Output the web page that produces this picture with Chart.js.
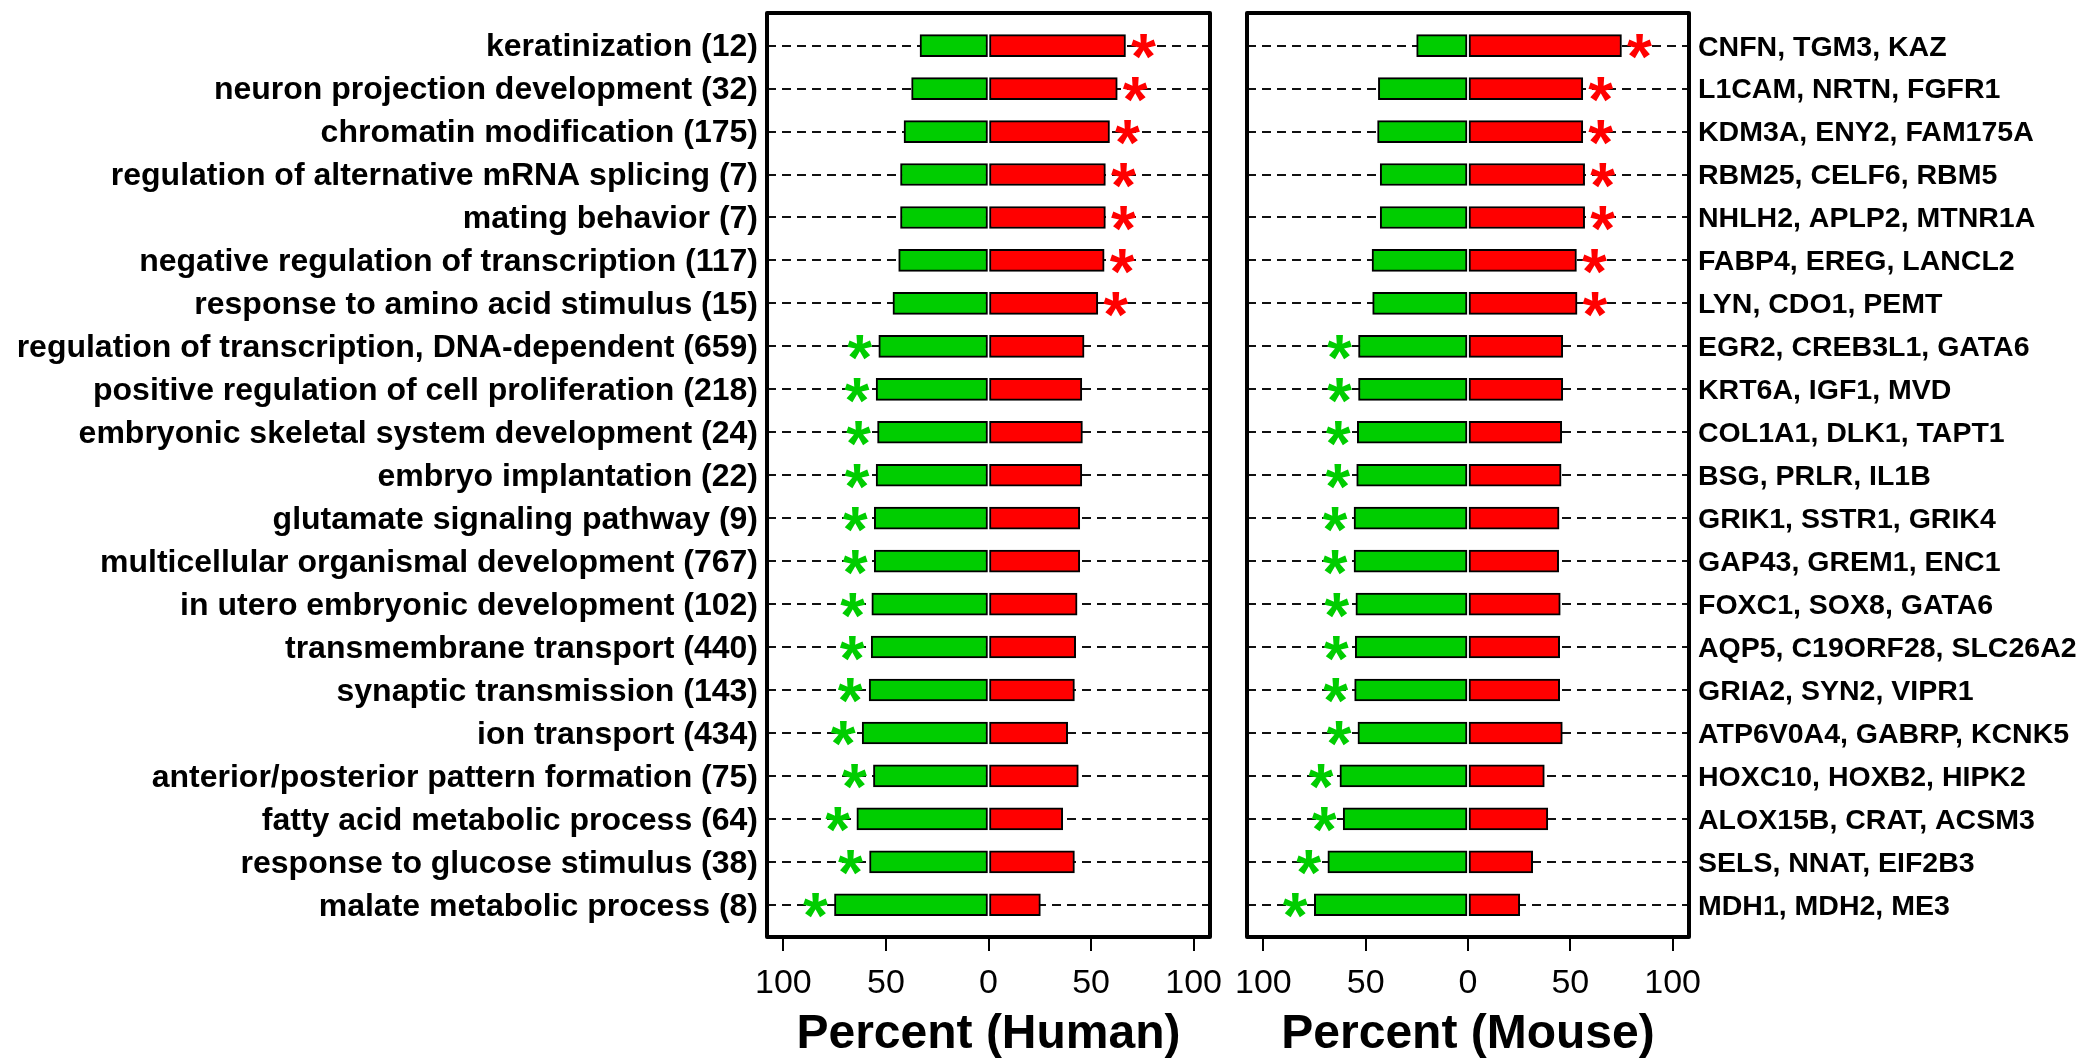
<!DOCTYPE html>
<html>
<head>
<meta charset="utf-8">
<script src="https://cdn.jsdelivr.net/npm/chart.js@4.4.1/dist/chart.umd.min.js"></script>
<style>
  html, body { margin: 0; padding: 0; background: #fff; }
  #wrap { position: relative; width: 2082px; height: 1062px; }
  .panel { position: absolute; top: 0; height: 1062px; }
  #human { left: 0; width: 1240px; }
  #mouse { left: 1225px; width: 857px; }
</style>
</head>
<body>
<div id="wrap">
  <div class="panel" id="human"><canvas id="humanChart"></canvas></div>
  <div class="panel" id="mouse"><canvas id="mouseChart"></canvas></div>
</div>
<script>
// GO terms (left labels) and example genes (right labels), top to bottom
const terms = [
  'keratinization (12)',
  'neuron projection development (32)',
  'chromatin modification (175)',
  'regulation of alternative mRNA splicing (7)',
  'mating behavior (7)',
  'negative regulation of transcription (117)',
  'response to amino acid stimulus (15)',
  'regulation of transcription, DNA-dependent (659)',
  'positive regulation of cell proliferation (218)',
  'embryonic skeletal system development (24)',
  'embryo implantation (22)',
  'glutamate signaling pathway (9)',
  'multicellular organismal development (767)',
  'in utero embryonic development (102)',
  'transmembrane transport (440)',
  'synaptic transmission (143)',
  'ion transport (434)',
  'anterior/posterior pattern formation (75)',
  'fatty acid metabolic process (64)',
  'response to glucose stimulus (38)',
  'malate metabolic process (8)'
];
const genes = [
  'CNFN, TGM3, KAZ', 'L1CAM, NRTN, FGFR1', 'KDM3A, ENY2, FAM175A',
  'RBM25, CELF6, RBM5', 'NHLH2, APLP2, MTNR1A', 'FABP4, EREG, LANCL2',
  'LYN, CDO1, PEMT', 'EGR2, CREB3L1, GATA6', 'KRT6A, IGF1, MVD',
  'COL1A1, DLK1, TAPT1', 'BSG, PRLR, IL1B', 'GRIK1, SSTR1, GRIK4',
  'GAP43, GREM1, ENC1', 'FOXC1, SOX8, GATA6', 'AQP5, C19ORF28, SLC26A2',
  'GRIA2, SYN2, VIPR1', 'ATP6V0A4, GABRP, KCNK5', 'HOXC10, HOXB2, HIPK2',
  'ALOX15B, CRAT, ACSM3', 'SELS, NNAT, EIF2B3', 'MDH1, MDH2, ME3'
];

// percent of genes down (green, drawn left) and up (red, drawn right)
const humanDown = [33.4, 37.5, 41.2, 42.9, 42.9, 43.8, 46.6, 53.5, 54.8, 54.1, 54.8, 55.7, 55.7, 56.9, 57.2, 58.2, 61.6, 56.1, 64.2, 58.0, 75.1];
const humanUp   = [66.8, 62.8, 59.0, 57.0, 57.0, 56.4, 53.3, 46.6, 45.5, 45.8, 45.5, 44.5, 44.5, 43.2, 42.5, 41.9, 38.6, 43.8, 36.2, 41.9, 25.3];
const mouseDown = [25.1, 43.8, 44.2, 42.9, 42.9, 46.9, 46.6, 53.5, 53.5, 54.1, 54.4, 55.7, 55.7, 54.8, 55.1, 55.4, 53.8, 62.6, 61.0, 68.5, 75.1];
const mouseUp   = [75.0, 56.1, 56.1, 57.0, 57.0, 53.0, 53.3, 46.3, 46.3, 45.8, 45.5, 44.5, 44.3, 45.1, 44.8, 44.8, 46.1, 37.3, 39.0, 31.6, 25.3];

// which side is significant (asterisk)
const humanSig = ['up','up','up','up','up','up','up','down','down','down','down','down','down','down','down','down','down','down','down','down','down'];
const mouseSig = ['up','up','up','up','up','up','up','down','down','down','down','down','down','down','down','down','down','down','down','down','down'];

const xTicks = [-100, -50, 0, 50, 100];

const GREEN = '#00CD00';
const RED = '#FF0000';
const FONT = "'Liberation Sans', Arial, sans-serif";

// box round the plot area + the asterisks next to the bars
const frameAndStars = {
  id: 'frameAndStars',
  afterDatasetsDraw(chart, args, opts) {
    const { ctx } = chart;
    const xs = chart.scales.x, ys = chart.scales.y;
    ctx.save();
    ctx.font = 'bold 64px ' + FONT;
    const m = ctx.measureText('*');
    const dx = (m.actualBoundingBoxRight - m.actualBoundingBoxLeft) / 2;
    const dy = (m.actualBoundingBoxDescent - m.actualBoundingBoxAscent) / 2;
    ctx.textAlign = 'left';
    ctx.textBaseline = 'alphabetic';
    opts.sig.forEach((s, i) => {
      const y = ys.getPixelForValue(i + 1) + 1;
      let x;
      if (s === 'up') {
        x = xs.getPixelForValue(opts.up[i]) + 18;
        ctx.fillStyle = RED;
      } else {
        x = xs.getPixelForValue(-opts.down[i]) - 19;
        ctx.fillStyle = GREEN;
      }
      ctx.fillText('*', x - dx, y - dy);
    });
    ctx.restore();
  },
  afterDraw(chart) {
    const { ctx, chartArea: a } = chart;
    ctx.save();
    ctx.strokeStyle = '#000';
    ctx.lineWidth = 4;
    ctx.lineJoin = 'round';
    ctx.strokeRect(a.left, a.top, a.right - a.left, a.bottom - a.top);
    ctx.restore();
  }
};

function makePanel(id, down, up, sig, title, side, labels, labelSize, axisWidth, pad) {
  const rows = labels.map((_, i) => i + 1);
  return new Chart(document.getElementById(id), {
    type: 'bar',
    data: {
      datasets: [
        { data: rows.map((r, i) => ({ x: -down[i], y: r })), backgroundColor: GREEN },
        { data: rows.map((r, i) => ({ x: up[i], y: r })), backgroundColor: RED }
      ]
    },
    options: {
      indexAxis: 'y',
      responsive: true,
      maintainAspectRatio: false,
      animation: false,
      layout: { padding: pad },
      datasets: {
        bar: { grouped: false, barThickness: 22, borderWidth: 2, borderColor: '#000', borderSkipped: false }
      },
      plugins: {
        legend: { display: false },
        tooltip: { enabled: false },
        frameAndStars: { sig: sig, up: up, down: down }
      },
      scales: {
        x: {
          type: 'linear',
          min: -108,
          max: 108,
          afterBuildTicks: s => { s.ticks = xTicks.map(v => ({ value: v })); },
          afterFit: s => { s.height = 125; s.paddingLeft = 0; s.paddingRight = 0; },
          ticks: {
            callback: v => String(Math.abs(v)),
            font: { family: FONT, size: 34 },
            color: '#000',
            padding: 12,
            maxRotation: 0,
            autoSkip: false
          },
          grid: { drawOnChartArea: false, drawTicks: true, tickLength: 14, color: '#000', lineWidth: 2 },
          border: { display: false },
          title: {
            display: true,
            text: title,
            color: '#000',
            font: { family: FONT, size: 48, weight: 'bold', lineHeight: 1.2 },
            padding: { top: 0, bottom: -2 }
          }
        },
        y: {
          type: 'linear',
          position: side,
          reverse: true,
          offset: false,
          min: 0.24,
          max: 21.75,
          afterBuildTicks: s => { s.ticks = rows.map(v => ({ value: v })); },
          afterFit: s => { s.width = axisWidth; s.paddingTop = 0; s.paddingBottom = 0; },
          ticks: {
            callback: v => labels[v - 1],
            font: { family: FONT, size: labelSize, weight: 'bold' },
            color: '#000',
            padding: 9,
            labelOffset: 2,
            autoSkip: false
          },
          grid: { offset: false, drawTicks: false, color: '#111', lineWidth: 2 },
          border: { display: false, dash: [9, 6] }
        }
      }
    },
    plugins: [frameAndStars]
  });
}

makePanel('humanChart', humanDown, humanUp, humanSig, 'Percent (Human)', 'left',
  terms, 32, 767, { top: 13, right: 30, left: 0, bottom: 0 });
makePanel('mouseChart', mouseDown, mouseUp, mouseSig, 'Percent (Mouse)', 'right',
  genes, 28.5, 393, { top: 13, right: 0, left: 22, bottom: 0 });
</script>
</body>
</html>
